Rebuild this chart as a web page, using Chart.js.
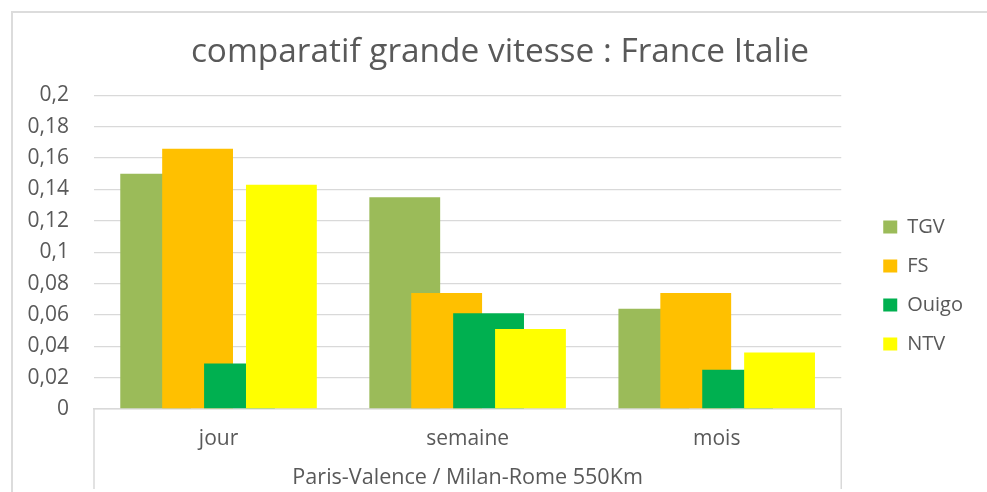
<!DOCTYPE html>
<html>
<head>
<meta charset="utf-8">
<script src="https://cdn.jsdelivr.net/npm/chart.js@4.4.1/dist/chart.umd.min.js"></script>
<style>
  body { margin: 0; background: #fff; }
  #frame {
    position: absolute; left: 11px; top: 11px;
    border-left: 2px solid #dcdcdc; border-top: 2px solid #dcdcdc;
  }
  canvas { display: block; }
</style>
</head>
<body>
<div id="frame"><canvas id="myChart" width="974" height="479"></canvas></div>
<script>
const categories = ['jour', 'semaine', 'mois'];
const seriesNames = ['TGV', 'FS', 'Ouigo', 'NTV'];
const tgvValues = [0.150, 0.135, 0.064];
const fsValues = [0.166, 0.074, 0.074];
const ouigoValues = [0.029, 0.061, 0.025];
const ntvValues = [0.143, 0.051, 0.036];
const seriesColors = ['#9BBB59', '#FFC000', '#00B050', '#FFFF00'];
const yMin = 0, yMax = 0.2, yStep = 0.02;

const textColor = '#595959';
const gridColor = '#d9d9d9';
const font = 'Open Sans';

// Excel draws later series over earlier ones
const drawInOrder = {
    id: 'drawInOrder',
    beforeDatasetsDraw(chart) {
        chart.getSortedVisibleDatasetMetas().forEach(meta => meta.controller.draw());
        return false;
    }
};

// side lines of the category box under the plot
const categoryBox = {
    id: 'categoryBox',
    afterDraw(chart) {
        const { ctx, chartArea } = chart;
        ctx.save();
        ctx.strokeStyle = gridColor;
        ctx.lineWidth = 1.5;
        [chartArea.left, chartArea.right].forEach(x => {
            ctx.beginPath();
            ctx.moveTo(x, chartArea.bottom);
            ctx.lineTo(x, chart.height - 3);
            ctx.stroke();
        });
        ctx.restore();
    }
};

const allValues = [tgvValues, fsValues, ouigoValues, ntvValues];

new Chart(document.getElementById('myChart').getContext('2d'), {
    type: 'bar',
    data: {
        labels: categories,
        datasets: seriesNames.map((name, i) => ({
            label: name,
            data: allValues[i],
            backgroundColor: seriesColors[i],
            borderWidth: 0,
            categoryPercentage: 0.673,
            barPercentage: 1.69
        }))
    },
    options: {
        responsive: false,
        animation: false,
        layout: { padding: 0 },
        scales: {
            x: {
                grid: { display: false, drawTicks: false },
                border: { color: gridColor, width: 1.5 },
                ticks: { color: textColor, font: { family: font, size: 21 }, padding: 17 },
                title: {
                    display: true,
                    text: 'Paris-Valence / Milan-Rome 550Km',
                    color: textColor,
                    font: { family: font, size: 21.6 },
                    padding: { top: 5, bottom: 1 }
                },
                afterFit: scale => { scale.height = 83; }
            },
            y: {
                min: yMin,
                max: yMax,
                grid: { color: gridColor, lineWidth: 1.3, drawTicks: false },
                border: { display: false },
                ticks: {
                    stepSize: yStep,
                    color: textColor,
                    font: { family: font, size: 21 },
                    padding: 25,
                    callback: v => String(Math.round(v * 100) / 100).replace('.', ',')
                },
                afterFit: scale => { scale.width = 81; }
            },
            gapR: {
                type: 'linear',
                position: 'right',
                weight: 0,
                grid: { display: false },
                border: { display: false },
                ticks: { display: false },
                afterFit: scale => { scale.width = 23; }
            },
            edgeR: {
                type: 'linear',
                position: 'right',
                weight: 3000,
                grid: { display: false },
                border: { display: false },
                ticks: { display: false },
                afterFit: scale => { scale.width = 14; }
            }
        },
        plugins: {
            title: {
                display: true,
                text: 'comparatif grande vitesse : France Italie',
                color: textColor,
                font: { family: font, size: 33.4, weight: 'normal' },
                padding: { top: 19.5, bottom: 22.8 }
            },
            legend: {
                position: 'right',
                title: { display: true, text: ' ', font: { size: 10 }, padding: { top: 54, bottom: 0 } },
                labels: {
                    color: textColor,
                    font: { family: font, size: 20 },
                    boxWidth: 14,
                    boxHeight: 13,
                    padding: 19
                }
            },
            tooltip: { enabled: false }
        }
    },
    plugins: [drawInOrder, categoryBox]
});
</script>
</body>
</html>
